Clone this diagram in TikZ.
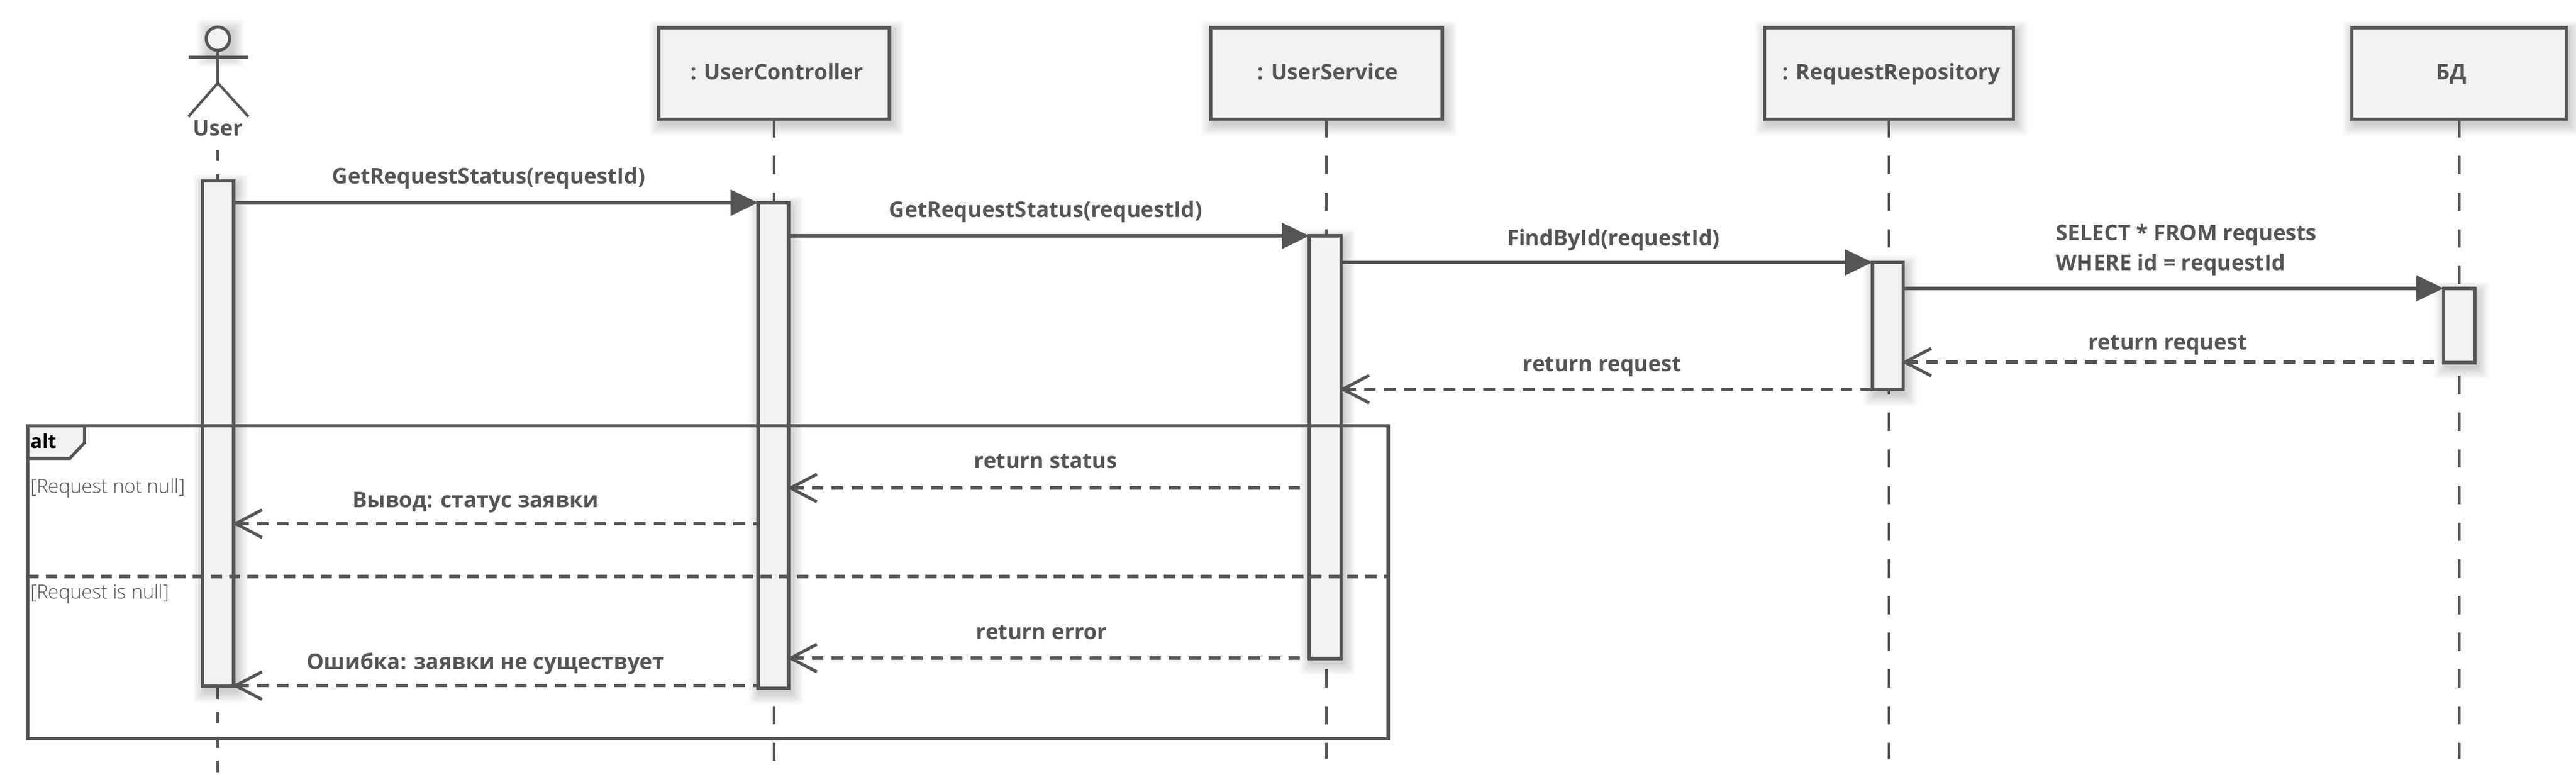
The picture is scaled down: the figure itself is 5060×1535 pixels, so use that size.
\documentclass[tikz,border=0pt]{standalone}
\usepackage{fontspec}
\setmainfont{Open Sans}
\newfontfamily\thinfont{Open Sans Light}
\usetikzlibrary{arrows.meta}
\definecolor{ink}{HTML}{555555}
\definecolor{panel}{HTML}{F1F1F1}
\newcommand{\softshadow}[4]{%
  \foreach \i in {1,...,8}{%
    \fill[black,opacity=0.024,rounded corners=6pt]
      ({#1-\i*3+6},{#2-\i*2.6+8}) rectangle ({#3+\i*3+4},{#4+\i*3+8});
  }%
}
\newcommand{\headbox}[6]{% name x1 y1 x2 y2 text
  \softshadow{#2}{#3}{#4}{#5}
  \pgfmathsetmacro{\cx}{(#2+#4)/2}\pgfmathsetmacro{\cy}{(#3+#5)/2}
  \pgfmathsetmacro{\ww}{#4-#2}\pgfmathsetmacro{\hh}{#5-#3}
  \node[headstyle,minimum width=\ww pt,minimum height=\hh pt] (#1) at (\cx,\cy) {};
}
\newcommand{\actbar}[5]{% name x1 y1 x2 y2
  \softshadow{#2}{#3}{#4}{#5}
  \pgfmathsetmacro{\cx}{(#2+#4)/2}\pgfmathsetmacro{\cy}{(#3+#5)/2}
  \pgfmathsetmacro{\ww}{#4-#2}\pgfmathsetmacro{\hh}{#5-#3}
  \node[headstyle,minimum width=\ww pt,minimum height=\hh pt] (#1) at (\cx,\cy) {};
}
\tikzset{
  headstyle/.style={draw=ink,fill=panel,line width=6.5pt,inner sep=0pt,outer sep=0pt,rectangle},
  lbl/.style={text=ink,font=\fontsize{42.5}{58}\selectfont\bfseries,inner sep=0pt,text height=31pt,text depth=10pt},
  guard/.style={text=ink,font=\fontsize{38}{44}\selectfont\thinfont,inner sep=0pt,anchor=west,text height=27pt,text depth=9pt},
  lifeA/.style={draw=ink,line width=5pt,dash pattern=on 36pt off 36pt},
  lifeU/.style={draw=ink,line width=5pt,dash pattern=on 22pt off 26pt},
  call/.style={draw=ink,line width=6.5pt,-{Triangle[length=54pt,width=50pt]}},
  ret/.style={draw=ink,line width=6.5pt,dash pattern=on 23pt off 16pt,shorten <=-3pt,
     {Straight Barb[length=52pt,width=54pt,line width=6pt]}-},
  fragline/.style={draw=ink,line width=6.5pt},
  divider/.style={draw=ink,line width=6.5pt,dash pattern=on 22pt off 14pt},
}
\begin{document}
\begin{tikzpicture}[x=1pt,y=-1pt]
\useasboundingbox (0,0) rectangle (5060,1535);
\fill[white] (0,0) rectangle (5060,1535);
% actor
\softshadow{405}{52}{451}{100}
\node[circle,draw=ink,fill=panel,line width=6pt,minimum size=46pt,inner sep=0pt] (head) at (428,76) {};
\coordinate (neck) at (428,100);
\coordinate (hip) at (428,163);
\coordinate (armL) at (370,112);
\coordinate (armR) at (488,112);
\coordinate (legL) at (370,229);
\coordinate (legR) at (488,229);
\draw[ink,line width=5pt] (head.south) -- (hip);
\draw[ink,line width=6pt] (armL) -- (armR);
\draw[ink,line width=5pt] (legL) -- (hip) -- (legR);
\node[lbl] (user) at (428,256) {User};
% head boxes
\headbox{uc}{1294}{54}{1747}{234}{}
\headbox{us}{2378}{54}{2833}{234}{}
\headbox{rr}{3466}{54}{3955}{234}{}
\headbox{db}{4620}{54}{5041}{234}{}
\node[lbl] (uct) at (1526,146) {: UserController};
\node[lbl] (ust) at (2608,146) {: UserService};
\node[lbl] (rrt) at (3715,146) {: RequestRepository};
\node[lbl] (dbt) at (4815,146) {БД};
% lifelines
\coordinate (ustart) at (428,294);
\coordinate (uend) at (428,1516);
\coordinate (cend) at (1520,1494);
\coordinate (send) at (2605,1490);
\coordinate (rend) at (3710,1490);
\coordinate (dend) at (4830,1490);
\draw[lifeU] (ustart) -- (uend);
\draw[lifeA] (uc.south) -- (uc.south |- cend);
\draw[lifeA] (us.south) -- (us.south |- send);
\draw[lifeA] (rr.south) -- (rr.south |- rend);
\draw[lifeA] (db.south) -- (db.south |- dend);
% activation bars
\actbar{au}{398}{355}{459}{1347}
\actbar{ac}{1489}{398}{1549}{1351}
\actbar{as}{2572}{463}{2634}{1293}
\actbar{ar}{3678}{515}{3738}{765}
\actbar{ad}{4800}{566}{4861}{712}
% calls
\draw[call] (au.east |- 0,398) -- (ac.west |- 0,398);
\draw[call] (ac.east |- 0,463) -- (as.west |- 0,463);
\draw[call] (as.east |- 0,515) -- (ar.west |- 0,515);
\draw[call] (ar.east |- 0,566) -- (ad.west |- 0,566);
% returns
\draw[ret] (ar.east |- 0,711) -- (ad.west |- 0,711);
\draw[ret] (as.east |- 0,764) -- (ar.west |- 0,764);
\draw[ret] (ac.east |- 0,958) -- (as.west |- 0,958);
\draw[ret] (au.east |- 0,1028) -- (ac.west |- 0,1028);
\draw[ret] (ac.east |- 0,1292) -- (as.west |- 0,1292);
\draw[ret] (au.east |- 0,1346) -- (ac.west |- 0,1346);
% labels
\node[lbl] (m1) at (960,350) {GetRequestStatus(requestId)};
\node[lbl] (m2) at (2054,416) {GetRequestStatus(requestId)};
\node[lbl] (m3) at (3169,472) {FindById(requestId)};
\node[lbl,anchor=west] (m4a) at (4038,462) {SELECT * FROM requests};
\node[lbl,anchor=west] (m4b) at (4038,520) {WHERE id = requestId};
\node[lbl] (r1) at (4258,676) {return request};
\node[lbl] (r2) at (3147,719) {return request};
\node[lbl] (r3) at (2054,909) {return status};
\node[lbl] (r4) at (934,986) {Вывод: статус заявки};
\node[lbl] (r5) at (2046,1245) {return error};
\node[lbl] (r6) at (954,1304) {Ошибка: заявки не существует};
% alt frame
\coordinate (fTL) at (54,836);
\coordinate (fBR) at (2727,1450);
\draw[fill=panel,draw=ink,line width=6pt] (54,836) -- (166,836) -- (166,869) -- (137,900) -- (54,900) -- cycle;
\draw[fragline] (fTL) rectangle (fBR);
\draw[divider] (54,1132) -- (2727,1132);
\node[lbl,text=black,anchor=west,font=\fontsize{38}{44}\selectfont\bfseries] (altlbl) at (60,869) {alt};
\node[guard] (g1) at (60,959) {[Request not null]};
\node[guard] (g2) at (60,1166) {[Request is null]};
\end{tikzpicture}
\end{document}
